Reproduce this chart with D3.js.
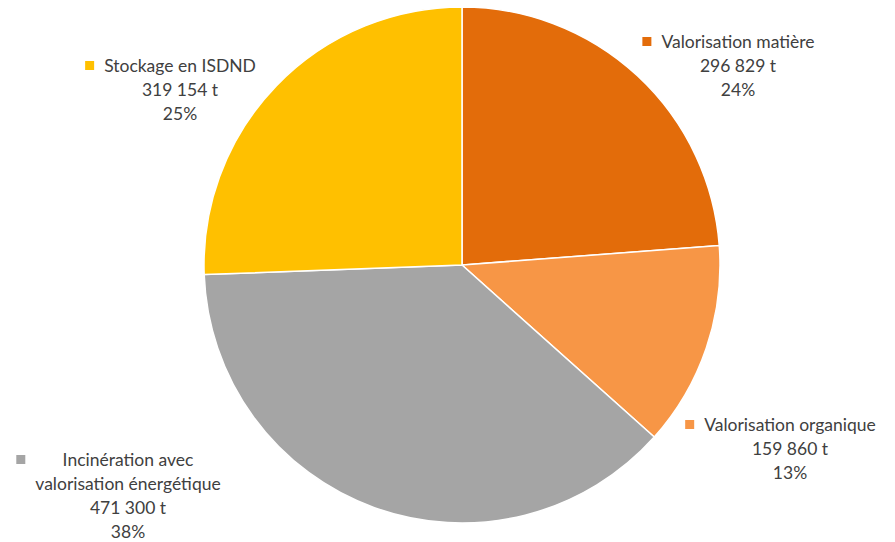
<!DOCTYPE html>
<html><head><meta charset="utf-8">
<script src="https://cdn.jsdelivr.net/npm/d3@7"></script>
<style>body{margin:0;background:#fff}text{font-family:Lato,"Open Sans",sans-serif}</style>
</head><body><svg id="c" width="895" height="542"></svg>
<script>
const categories = ["Valorisation matière","Valorisation organique","Incinération avec valorisation énergétique","Stockage en ISDND"];
const labelLines = [["Valorisation matière"],["Valorisation organique"],["Incinération avec","valorisation énergétique"],["Stockage en ISDND"]];
const tonnages = [296829,159860,471300,319154];
const percents = [24,13,38,25];
const colors = ["#E36C0A","#F79646","#A5A5A5","#FFC000"];

const svg = d3.select("#c");
const cx = 462, cy = 265, r = 258;
const pie = d3.pie().sort(null).value(d=>d)(tonnages);
const arc = d3.arc().innerRadius(0).outerRadius(r);
const g = svg.append("g").attr("transform",`translate(${cx},${cy})`);
g.selectAll("path").data(pie).join("path")
  .attr("d",arc).attr("fill",(d,i)=>colors[i])
  .attr("stroke","#fff").attr("stroke-width",1.5);

const fmt = d3.formatLocale({decimal:",",thousands:" ",grouping:[3],currency:["","€"]}).format(",d");
const labelPos = [[738,48],[790,431],[128,466],[180,72]];
const lh = 24;
const fs = 17.5;
labelLines.forEach((lines,i)=>{
  const [x,y] = labelPos[i];
  const all = lines.concat([fmt(tonnages[i])+" t", percents[i]+"%"]);
  const t = svg.append("text").attr("text-anchor","middle").attr("fill","#404040").attr("font-size",fs);
  all.forEach((s,j)=>t.append("tspan").attr("x",x).attr("y",y+j*lh).text(s));
  let w = 0;
  all.forEach(s=>{const tmp = svg.append("text").attr("font-size",fs).text(s); w = Math.max(w,tmp.node().getComputedTextLength()); tmp.remove();});
  svg.append("rect").attr("x",x - w/2 - 19).attr("y",y-11).attr("width",9).attr("height",9).attr("fill",colors[i]);
});
</script></body></html>
